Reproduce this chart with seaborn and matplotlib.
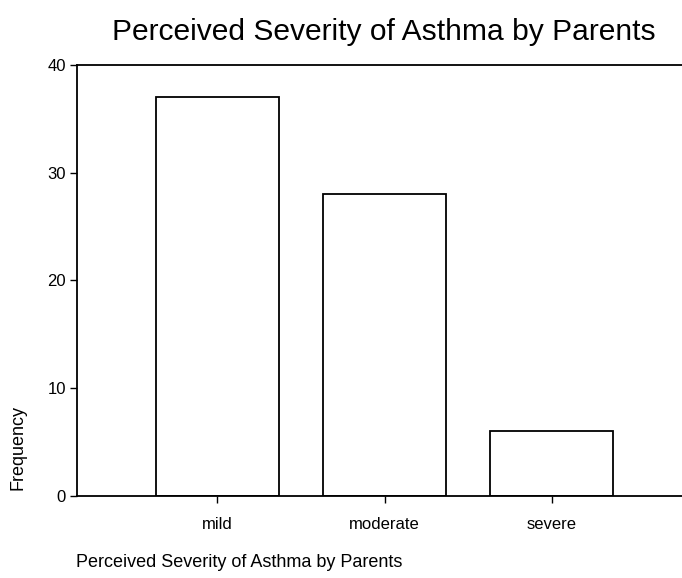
import matplotlib
matplotlib.use("Agg")
import matplotlib.pyplot as plt
import seaborn as sns
import pandas as pd

severity = ["mild", "moderate", "severe"]
frequency = [37, 28, 6]
y_ticks = [0, 10, 20, 30, 40]

sns.set_style("white")
plt.rcParams["font.family"] = ["Liberation Sans", "DejaVu Sans"]
plt.rcParams["text.color"] = "black"

df = pd.DataFrame({"severity": severity, "frequency": frequency})

fig = plt.figure(figsize=(6.82, 5.78), dpi=100)
ax = fig.add_axes([0.113, 0.142, 0.887, 0.746])
sns.barplot(data=df, x="severity", y="frequency", color="white",
            edgecolor="black", linewidth=1.3, width=0.74, ax=ax)

ax.set_xlim(-0.84, 2.78)
ax.set_ylim(0, 40)
ax.set_yticks(y_ticks)
ax.set_xlabel("")
ax.set_ylabel("")
for side in ["left", "bottom", "top"]:
    ax.spines[side].set_visible(True)
    ax.spines[side].set_color("black")
    ax.spines[side].set_linewidth(1.3)
ax.spines["right"].set_visible(False)
ax.tick_params(axis="y", direction="out", length=5, width=1, pad=3,
               labelsize=12, left=True, colors="black")
ax.tick_params(axis="x", direction="out", length=5, width=1, pad=10,
               labelsize=12, bottom=True, colors="black")

fig.text(0.563, 0.944, "Perceived Severity of Asthma by Parents",
         fontsize=21.6, ha="center", va="center")
fig.text(0.112, 0.012, "Perceived Severity of Asthma by Parents",
         fontsize=13, ha="left", va="bottom")
fig.text(0.027, 0.152, "Frequency", fontsize=13, rotation=90,
         ha="center", va="bottom")

fig.savefig("out.png", dpi=100, facecolor="white")
